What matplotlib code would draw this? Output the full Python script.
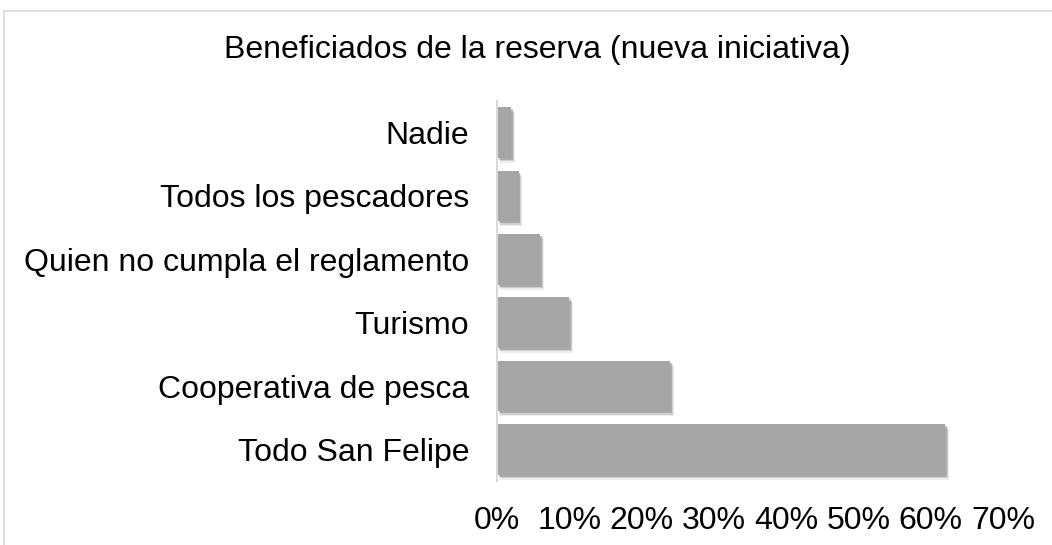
import matplotlib
matplotlib.use("Agg")
import matplotlib.pyplot as plt
import matplotlib.patheffects as pe
from matplotlib.ticker import PercentFormatter
from matplotlib.lines import Line2D

categories = ["Todo San Felipe", "Cooperativa de pesca", "Turismo",
              "Quien no cumpla el reglamento", "Todos los pescadores", "Nadie"]
values = [0.62, 0.24, 0.10, 0.06, 0.03, 0.02]
xticks = [0, 0.1, 0.2, 0.3, 0.4, 0.5, 0.6, 0.7]
title = "Beneficiados de la reserva (nueva iniciativa)"

plt.rcParams['font.family'] = ['Liberation Sans', 'DejaVu Sans']

fig = plt.figure(figsize=(10.52, 5.45), dpi=100)
ax = fig.add_axes([0.4724, 0.1174, 0.481, 0.6973])

shadow = [pe.SimplePatchShadow(offset=(2.5, -3.5), shadow_rgbFace='#888888', alpha=0.15),
          pe.SimplePatchShadow(offset=(2, -2.5), shadow_rgbFace='#777777', alpha=0.25),
          pe.SimplePatchShadow(offset=(1.2, -1.5), shadow_rgbFace='#666666', alpha=0.35),
          pe.Normal()]
bars = ax.barh(range(len(categories)), values, height=0.8, color='#A5A5A5',
               path_effects=shadow, zorder=2)

ax.set_xlim(0, 0.7)
ax.set_ylim(-0.5, len(categories) - 0.5)
ax.set_xticks(xticks)
ax.xaxis.set_major_formatter(PercentFormatter(1.0, decimals=0))
ax.set_yticks(range(len(categories)))
ax.set_yticklabels(categories)
ax.tick_params(axis='both', length=0, labelsize=23, colors='black')
ax.tick_params(axis='y', pad=20)
ax.tick_params(axis='x', pad=18)
for s in ['top', 'right', 'bottom']:
    ax.spines[s].set_visible(False)
ax.spines['left'].set_color('#D9D9D9')
ax.spines['left'].set_linewidth(1.5)
ax.spines['left'].set_zorder(3)

fig.text(0.511, 0.908, title, ha='center', va='center', fontsize=23)

# chart border (light grey)
fig.add_artist(Line2D([4/1052, 4/1052], [0, 1 - 11/545], color='#D9D9D9', lw=1.2))
fig.add_artist(Line2D([4/1052, 1], [1 - 11/545, 1 - 11/545], color='#D9D9D9', lw=1.2))

fig.savefig("out.png", dpi=100, facecolor='white')
